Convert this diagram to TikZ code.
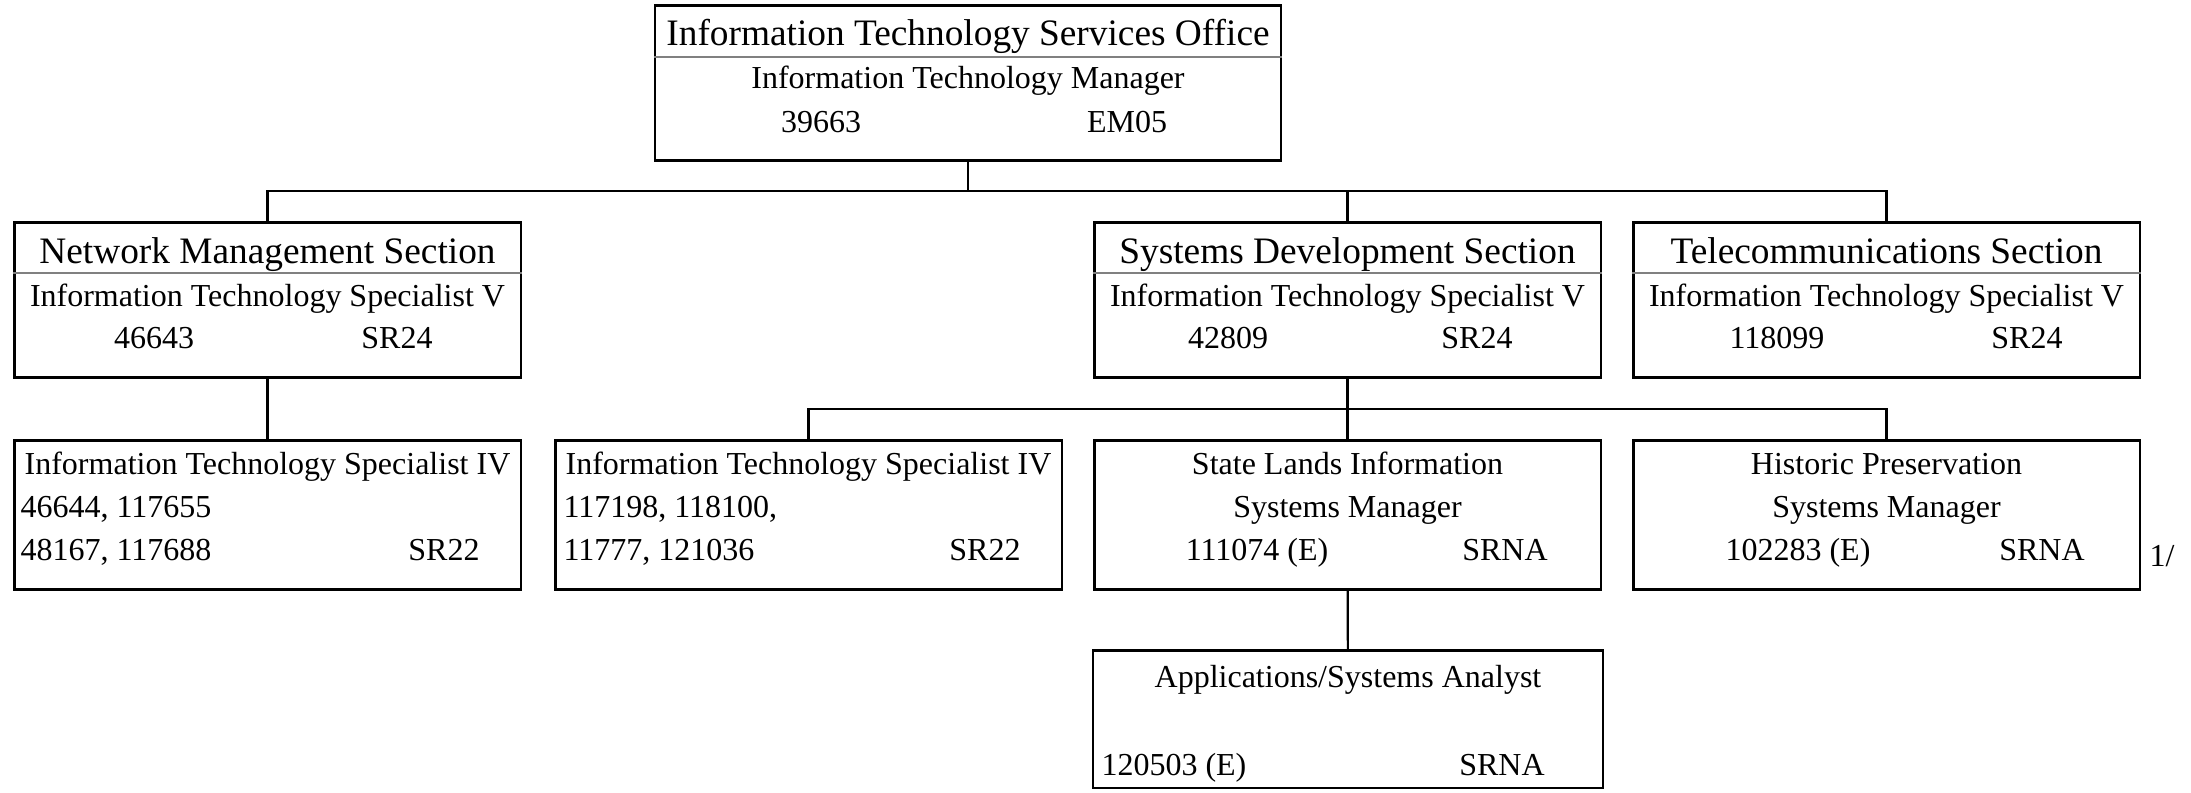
\documentclass[tikz,border=0pt]{standalone}
\usepackage{fontspec}
\setmainfont{Liberation Serif}
\begin{document}
\begin{tikzpicture}[x=0.375pt,y=-0.375pt]
  \tikzset{box/.style={draw,line width=1.1pt,minimum width=190.1pt,inner sep=0pt},
    head/.style={font=\fontsize{14}{16}\selectfont,anchor=base,inner sep=0pt},
    txt/.style={font=\fontsize{12}{14}\selectfont,anchor=base,inner sep=0pt},
    txtl/.style={txt,anchor=base west},
    link/.style={line width=0.8pt},
    rule/.style={gray,line width=0.4pt}}
  \useasboundingbox (0,0) rectangle (2191,793);
  % boxes
  \node[box,minimum width=234.75pt,minimum height=58pt] (itso) at (968,83) {};
  \node[box,minimum height=58.1pt] (net) at (267.5,300) {};
  \node[box,minimum height=58.1pt] (sys) at (1347.5,300) {};
  \node[box,minimum height=58.1pt] (tel) at (1886.5,300) {};
  \node[box,minimum height=56pt] (its1) at (267.5,515) {};
  \node[box,minimum height=56pt] (its2) at (808.5,515) {};
  \node[box,minimum height=56pt] (state) at (1347.5,515) {};
  \node[box,minimum height=56pt] (hist) at (1886.5,515) {};
  \node[box,minimum width=191.25pt,minimum height=51.4pt] (apps) at (1348,719.5) {};
  % lines
  \coordinate (bus1) at (968,191);
  \coordinate (bus2) at (1347.5,409);
  \draw[link] (itso) -- (bus1);
  \draw[link] (net.north) |- (bus1) -| (tel.north);
  \draw[link] (sys.north) -- (sys.north |- bus1);
  \draw[link] (net) -- (its1);
  \draw[link] (sys) -- (state);
  \draw[link] (its2.north) |- (bus2) -| (hist.north);
  \draw[link] (state) -- (apps);
  % dividers
  \draw[rule] (itso.west |- 0,57) -- (itso.east |- 0,57);
  \draw[rule] (net.west |- 0,273) -- (net.east |- 0,273);
  \draw[rule] (sys.west |- 0,273) -- (sys.east |- 0,273);
  \draw[rule] (tel.west |- 0,273) -- (tel.east |- 0,273);
  % text
  \node[head] (itso-t) at (968,46) {Information Technology Services Office};
  \node[txt] (itso-j) at (968,89) {Information Technology Manager};
  \node[txt] (itso-n) at (821,133) {39663};
  \node[txt] (itso-g) at (1127,133) {EM05};
  \node[head] (net-t) at (267.5,264) {Network Management Section};
  \node[txt] (net-j) at (267.5,307) {Information Technology Specialist V};
  \node[txt] (net-n) at (154,349) {46643};
  \node[txt] (net-g) at (397,349) {SR24};
  \node[head] (sys-t) at (1347.5,264) {Systems Development Section};
  \node[txt] (sys-j) at (1347.5,307) {Information Technology Specialist V};
  \node[txt] (sys-n) at (1228,349) {42809};
  \node[txt] (sys-g) at (1477,349) {SR24};
  \node[head] (tel-t) at (1886.5,264) {Telecommunications Section};
  \node[txt] (tel-j) at (1886.5,307) {Information Technology Specialist V};
  \node[txt] (tel-n) at (1777,349) {118099};
  \node[txt] (tel-g) at (2027,349) {SR24};
  \node[txt] (its1-j) at (267.5,475) {Information Technology Specialist IV};
  \node[txtl] (its1-a) at (20,518) {46644, 117655};
  \node[txtl] (its1-b) at (20,561) {48167, 117688};
  \node[txt] (its1-g) at (444,561) {SR22};
  \node[txt] (its2-j) at (808.5,475) {Information Technology Specialist IV};
  \node[txtl] (its2-a) at (563,518) {117198, 118100,};
  \node[txtl] (its2-b) at (563,561) {11777, 121036};
  \node[txt] (its2-g) at (985,561) {SR22};
  \node[txt] (state-j) at (1347.5,475) {State Lands Information};
  \node[txt] (state-k) at (1347.5,518) {Systems Manager};
  \node[txt] (state-n) at (1257,561) {111074 (E)};
  \node[txt] (state-g) at (1505,561) {SRNA};
  \node[txt] (hist-j) at (1886.5,475) {Historic Preservation};
  \node[txt] (hist-k) at (1886.5,518) {Systems Manager};
  \node[txt] (hist-n) at (1798,561) {102283 (E)};
  \node[txt] (hist-g) at (2042,561) {SRNA};
  \node[txtl] (note) at (2149,567) {1/};
  \node[txt] (apps-j) at (1348,688) {Applications/Systems Analyst};
  \node[txtl] (apps-n) at (1101,776) {120503 (E)};
  \node[txt] (apps-g) at (1502,776) {SRNA};
\end{tikzpicture}
\end{document}
